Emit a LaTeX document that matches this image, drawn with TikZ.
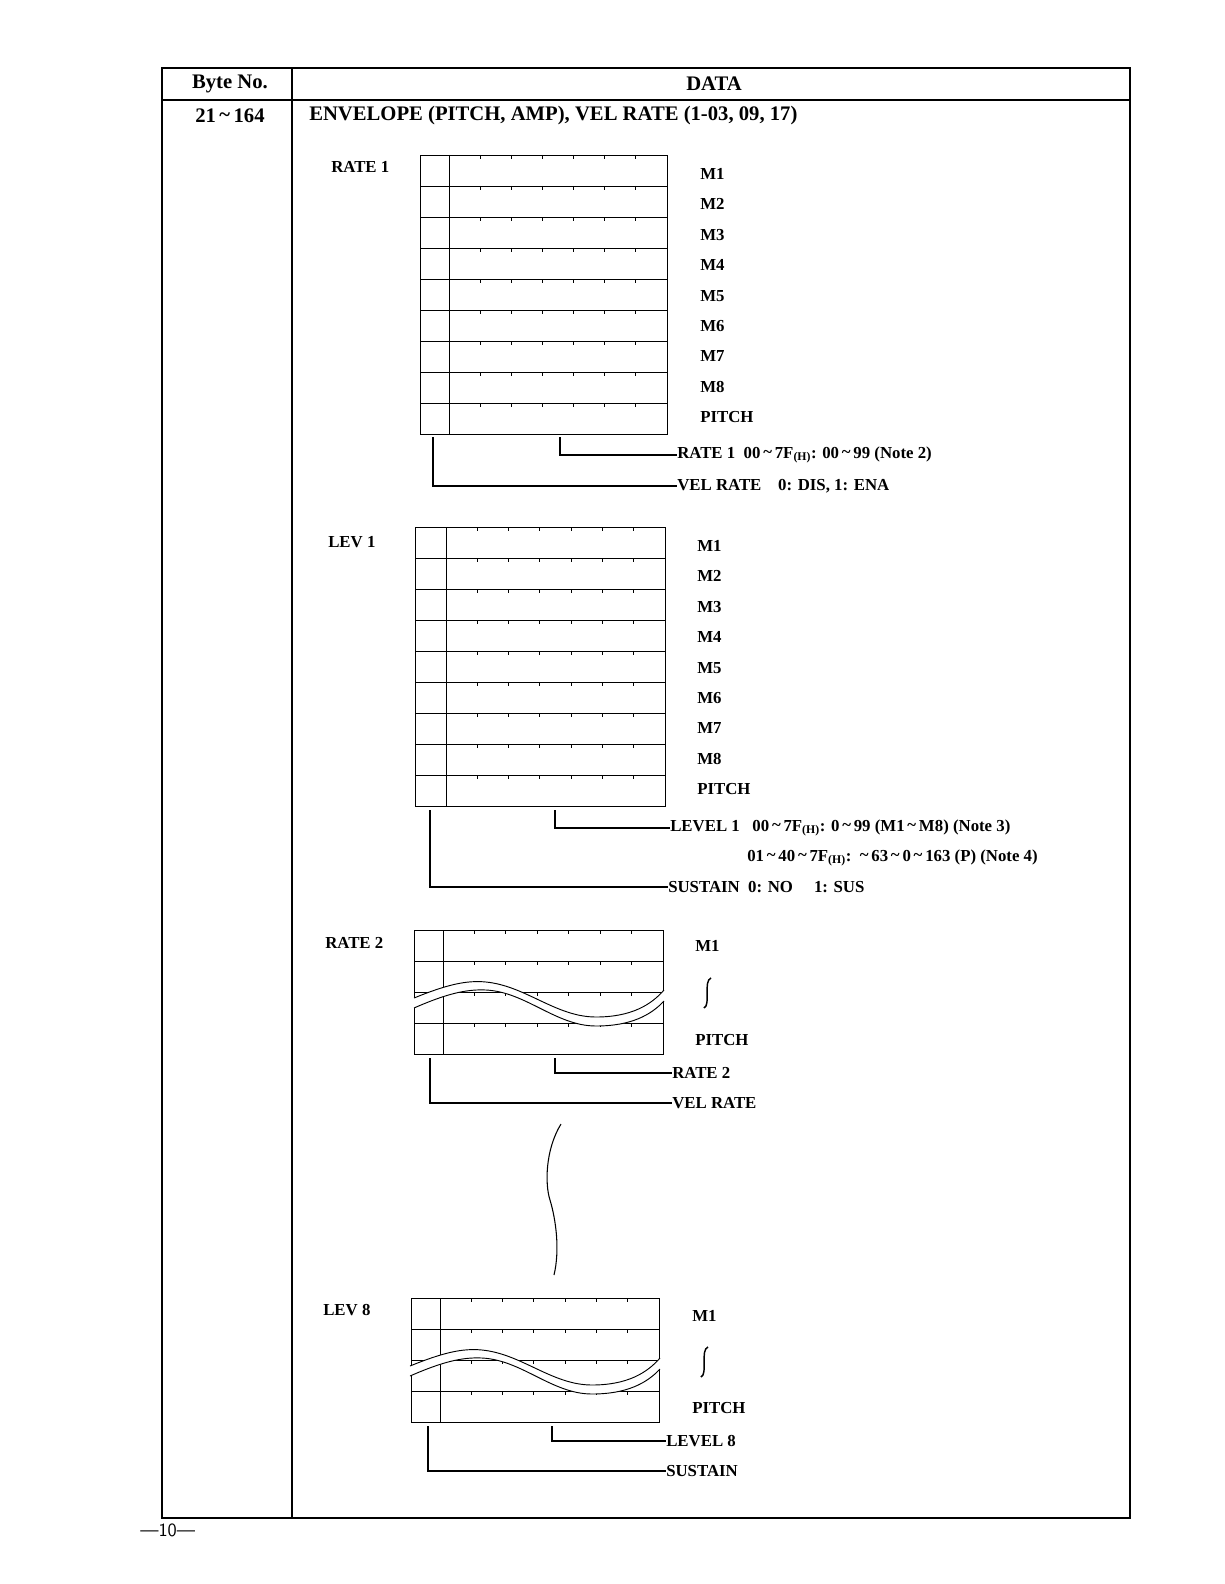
\documentclass[tikz,border=0pt]{standalone}
\usepackage{fontspec}
\setmainfont{Liberation Serif}
\newcommand\hsub{\textsubscript{(H)}}
\newcommand\tl{\raisebox{0.1ex}{\textasciitilde}}
\newcommand\mygrid[6]{% x0 y0 x1 rows divider rowh
  \pgfmathsetmacro\yb{#2+#4*#6}
  \draw[gridline] (#1,#2) rectangle (#3,\yb);
  \draw[gridline] (#5,#2) -- (#5,\yb);
  \foreach \r in {1,...,#4}{\draw[gridline] (#1,{#2+\r*#6}) -- (#3,{#2+\r*#6});}
  \pgfmathsetmacro\lastrow{#4-1}
  \foreach \r in {0,...,\lastrow}{
    \foreach \k in {1,...,6}{\draw[gridline] ({#5+\k*(#3-#5)/7},{#2+\r*#6}) -- ++(0,4);}}
}
\newcommand\band[2]{% dx dy
  \begin{scope}[shift={(#1,#2)}]
  \fill[white] (418,998) .. controls (450,985) and (470,980) .. (490,982) .. controls (530,986) and (560,1017) .. (600,1017) .. controls (635,1017) and (655,1005) .. (668,990)
     -- (668,1001) .. controls (655,1015) and (635,1026) .. (600,1026) .. controls (560,1026) and (530,992) .. (490,990) .. controls (470,989) and (450,994) .. (418,1008) -- cycle;
  \draw[gridline] (418,998) .. controls (450,985) and (470,980) .. (490,982) .. controls (530,986) and (560,1017) .. (600,1017) .. controls (635,1017) and (655,1005) .. (668,990);
  \draw[gridline] (418,1008) .. controls (450,994) and (470,989) .. (490,990) .. controls (530,992) and (560,1026) .. (600,1026) .. controls (635,1026) and (655,1015) .. (668,1001);
  \end{scope}}
\newcommand\squig[2]{\draw[line width=1.1pt] (#1+4,#2-15) .. controls (#1-4,#2-12) and (#1+4,#2+12) .. (#1-3,#2+15);}
\begin{document}
\begin{tikzpicture}[x=0.75pt,y=-0.75pt,
  gridline/.style={line width=0.7pt},
  frame/.style={line width=1pt},
  lbl/.style={anchor=west,inner sep=0pt,font=\bfseries\fontsize{12.6}{14}\selectfont},
  hdr/.style={inner sep=0pt,font=\bfseries\fontsize{15.5}{17}\selectfont},
  conn/.style={line width=0.8pt}]
\useasboundingbox (0,0) rectangle (1224,1584);
% table frame
\draw[frame] (162,68) rectangle (1130,1518);
\draw[frame] (162,100) -- (1130,100);
\draw[frame] (292,68) -- (292,1518);
\node[hdr] (byte) at (230,84) {Byte No.};
\node[hdr] (data) at (714,84) {DATA};
\node[hdr] (rng) at (230,116) {21\,\tl\,164};
\node[hdr,anchor=west] (title) at (309,116) {ENVELOPE (PITCH, AMP), VEL RATE (1-03, 09, 17)};
\node[anchor=west,inner sep=0pt,font=\sffamily\fontsize{14}{16}\selectfont] (pg) at (140,1530) {---10---};
% block 1
\node[lbl] (r1) at (331,167) {RATE 1};
\mygrid{420}{155}{667}{9}{449}{31}
\foreach \t [count=\i from 0] in {M1,M2,M3,M4,M5,M6,M7,M8,PITCH}{\node[lbl] at (700,{174+\i*30.4}) {\t};}
\node[lbl] (r1t) at (677,455) {RATE 1\ \ 00\,\tl\,7F\hsub: 00\,\tl\,99 (Note 2)};
\node[lbl] (v1t) at (677,486) {VEL RATE\ \ \ \ 0: DIS, 1: ENA};
\draw[conn] (560,437) |- (r1t.west);
\draw[conn] (433,437) |- (v1t.west);
% block 2
\node[lbl] (l1) at (328,542) {LEV 1};
\mygrid{415}{527}{665}{9}{446}{31}
\foreach \t [count=\i from 0] in {M1,M2,M3,M4,M5,M6,M7,M8,PITCH}{\node[lbl] at (697,{546+\i*30.4}) {\t};}
\node[lbl] (l1t) at (670,828) {LEVEL 1\ \ \ 00\,\tl\,7F\hsub: 0\,\tl\,99 (M1\,\tl\,M8) (Note 3)};
\node[lbl] (l1u) at (747,858) {01\,\tl\,40\,\tl\,7F\hsub:\ \ \tl\,63\,\tl\,0\,\tl\,163 (P) (Note 4)};
\node[lbl] (s1t) at (668,887) {SUSTAIN\ \ 0: NO\ \ \ \ \ 1: SUS};
\draw[conn] (555,810) |- (l1t.west);
\draw[conn] (430,810) |- (s1t.west);
% block 3
\node[lbl] (r2) at (325,943) {RATE 2};
\mygrid{414}{930}{663}{4}{443}{31}
\band{-4}{0}
\node[lbl] at (695,946) {M1};
\squig{707}{993}
\node[lbl] at (695,1040) {PITCH};
\node[lbl] (r2t) at (672,1073) {RATE 2};
\node[lbl] (v2t) at (672,1103) {VEL RATE};
\draw[conn] (555,1058) |- (r2t.west);
\draw[conn] (430,1058) |- (v2t.west);
% break
\draw[line width=0.8pt] (561,1124) .. controls (545,1150) and (545,1185) .. (550,1200) .. controls (556,1220) and (560,1250) .. (554,1275);
% block 4
\node[lbl] (l8) at (323,1310) {LEV 8};
\mygrid{411}{1298}{659}{4}{440}{31}
\band{-8}{368}
\node[lbl] at (692,1316) {M1};
\squig{704}{1362}
\node[lbl] at (692,1408) {PITCH};
\node[lbl] (l8t) at (666,1441) {LEVEL 8};
\node[lbl] (s8t) at (666,1471) {SUSTAIN};
\draw[conn] (552,1426) |- (l8t.west);
\draw[conn] (428,1426) |- (s8t.west);
\end{tikzpicture}
\end{document}
